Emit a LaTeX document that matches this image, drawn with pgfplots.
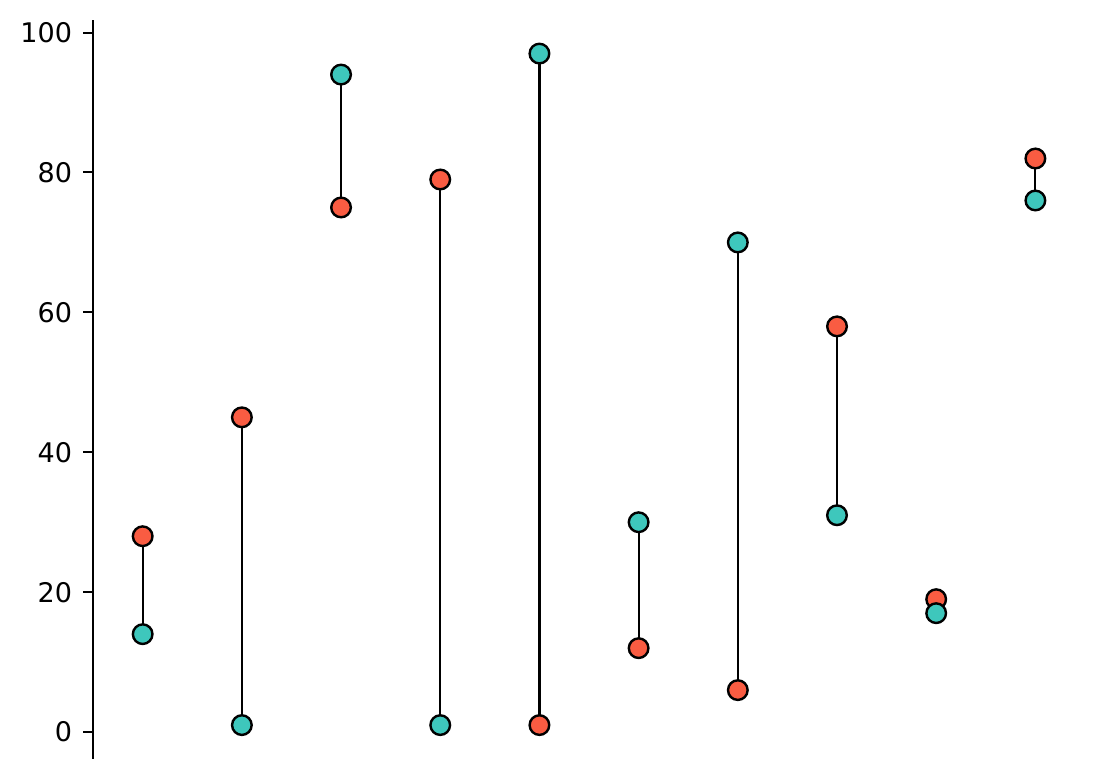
\documentclass[border=0pt]{standalone}
\usepackage{fontspec}
\setmainfont{DejaVu Sans}
\usepackage{pgfplots}
\pgfplotsset{compat=1.18}
\definecolor{dotred}{HTML}{F95C42}
\definecolor{dotteal}{HTML}{3EC7BC}

\begin{document}
\begin{tikzpicture}
\begin{axis}[
    name=ax,
    scale only axis,
    width=495.5pt, height=369pt,
    xmin=-0.5, xmax=9.5,
    ymin=-3.8, ymax=101.8,
    axis x line=none,
    axis y line*=left,
    y axis line style={line width=1pt, -},
    ytick={0,20,...,100},
    tick align=outside,
    major tick length=5pt,
    tick style={line width=1pt, black},
    tick label style={font=\fontsize{13.5}{16}\selectfont},
    yticklabel style={xshift=-2pt},
    /pgf/number format/assume math mode=true,
    clip=false,
]
% connecting lines
\addplot[black, line width=1.1pt] coordinates {(0,28) (0,14)};
\addplot[black, line width=1.1pt] coordinates {(1,45) (1,1)};
\addplot[black, line width=1.1pt] coordinates {(2,75) (2,94)};
\addplot[black, line width=1.1pt] coordinates {(3,79) (3,1)};
\addplot[black, line width=1.1pt] coordinates {(4,1) (4,97)};
\addplot[black, line width=1.1pt] coordinates {(5,12) (5,30)};
\addplot[black, line width=1.1pt] coordinates {(6,6) (6,70)};
\addplot[black, line width=1.1pt] coordinates {(7,58) (7,31)};
\addplot[black, line width=1.1pt] coordinates {(8,19) (8,17)};
\addplot[black, line width=1.1pt] coordinates {(9,82) (9,76)};

% first series (red)
\addplot[only marks, mark=*, mark size=4.9pt,
    mark options={fill=dotred, draw=black, line width=1.2pt}]
coordinates {
    (0,28) (1,45) (2,75) (3,79) (4,1)
    (5,12) (6,6) (7,58) (8,19) (9,82)
};

% second series (teal)
\addplot[only marks, mark=*, mark size=4.9pt,
    mark options={fill=dotteal, draw=black, line width=1.2pt}]
coordinates {
    (0,14) (1,1) (2,94) (3,1) (4,97)
    (5,30) (6,70) (7,31) (8,17) (9,76)
};
\end{axis}
\pgfresetboundingbox
\path (ax.south west) ++(-46.5pt,-10.5pt) coordinate (bl);
\path (ax.north east) ++(9.5pt,10pt) coordinate (tr);
\path[use as bounding box] (bl) rectangle (tr);
\end{tikzpicture}
\end{document}
